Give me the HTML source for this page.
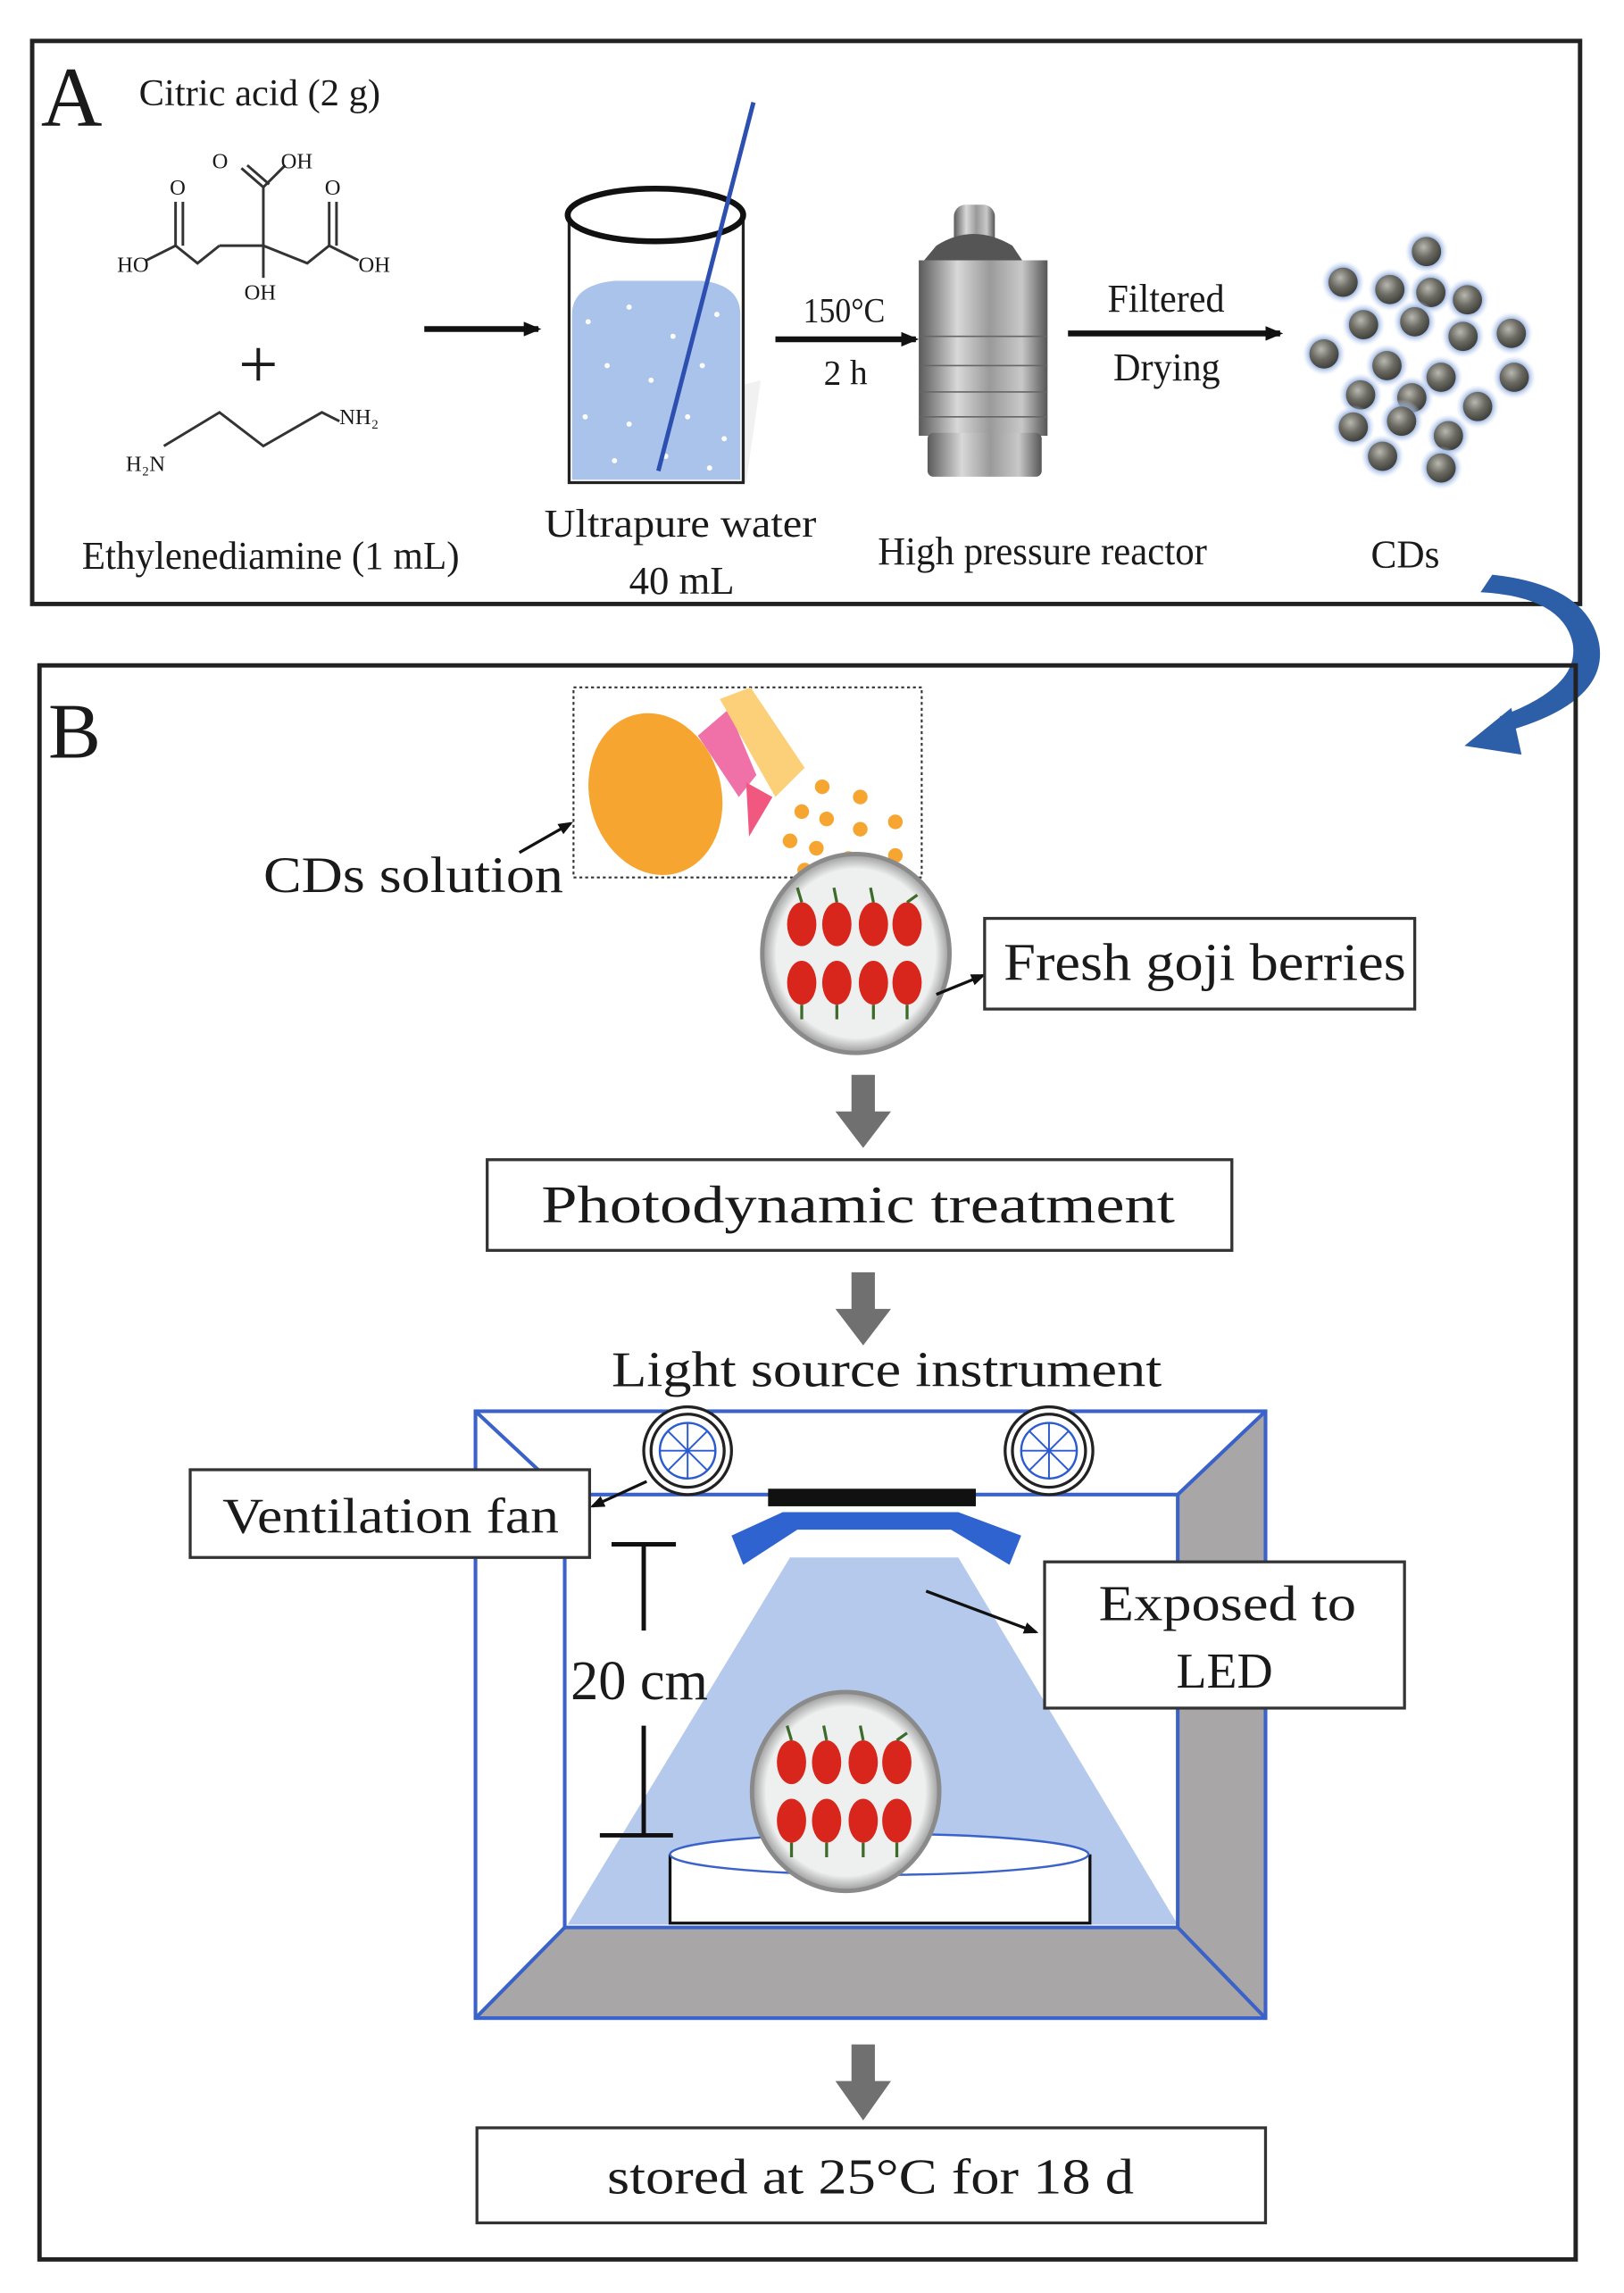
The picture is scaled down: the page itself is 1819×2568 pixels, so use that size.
<!DOCTYPE html>
<html><head><meta charset="utf-8"><style>
html,body{margin:0;padding:0;background:#fff;}
svg{display:block;}
text{font-family:"Liberation Serif",serif;fill:#1a1a1a;}
</style></head><body>
<svg width="1819" height="2568" viewBox="0 0 1819 2568" xmlns="http://www.w3.org/2000/svg">
<defs>
<radialGradient id="sph" cx="0.4" cy="0.35" r="0.7"><stop offset="0" stop-color="#b8b8b0"/><stop offset="0.5" stop-color="#6b6a62"/><stop offset="1" stop-color="#3a3a36"/></radialGradient>
<radialGradient id="glow" cx="0.5" cy="0.5" r="0.5"><stop offset="0.6" stop-color="#7f9fd8"/><stop offset="1" stop-color="#dfe8f8" stop-opacity="0"/></radialGradient>
<linearGradient id="steel" x1="0" x2="1"><stop offset="0" stop-color="#5a5a5a"/><stop offset="0.3" stop-color="#d8d8d8"/><stop offset="0.55" stop-color="#9a9a9a"/><stop offset="0.8" stop-color="#c8c8c8"/><stop offset="1" stop-color="#555"/></linearGradient>
<radialGradient id="dishg" cx="0.5" cy="0.5" r="0.5"><stop offset="0.85" stop-color="#eef0ef"/><stop offset="1" stop-color="#9a9a9a"/></radialGradient>
<g id="dish">
<ellipse cx="0" cy="0" rx="64" ry="68" fill="url(#dishg)" stroke="#8a8a8a" stroke-width="3"/>
<g fill="#d8261c">
<ellipse cx="-37" cy="-20" rx="10" ry="15"/><ellipse cx="-13" cy="-20" rx="10" ry="15"/><ellipse cx="12" cy="-20" rx="10" ry="15"/><ellipse cx="35" cy="-20" rx="10" ry="15"/>
<ellipse cx="-37" cy="20" rx="10" ry="15"/><ellipse cx="-13" cy="20" rx="10" ry="15"/><ellipse cx="12" cy="20" rx="10" ry="15"/><ellipse cx="35" cy="20" rx="10" ry="15"/>
</g>
<g stroke="#3d6b2a" stroke-width="2"><line x1="-37" y1="-35" x2="-40" y2="-45"/><line x1="-13" y1="-35" x2="-15" y2="-45"/><line x1="12" y1="-35" x2="10" y2="-45"/><line x1="35" y1="-35" x2="42" y2="-40"/><line x1="-37" y1="35" x2="-37" y2="45"/><line x1="-13" y1="35" x2="-13" y2="45"/><line x1="12" y1="35" x2="12" y2="45"/><line x1="35" y1="35" x2="35" y2="45"/></g>
</g>
<g id="sp"><circle r="15" fill="url(#glow)"/><circle r="10" fill="url(#sph)"/></g>
<g id="fan"><circle r="30" fill="#fff" stroke="#222" stroke-width="2"/><circle r="25" fill="#fff" stroke="#222" stroke-width="2"/><circle r="19" fill="none" stroke="#2a5bd0" stroke-width="1.5"/><g stroke="#2a5bd0" stroke-width="1.2"><line x1="-19" y1="0" x2="19" y2="0"/><line x1="0" y1="-19" x2="0" y2="19"/><line x1="-13" y1="-13" x2="13" y2="13"/><line x1="-13" y1="13" x2="13" y2="-13"/></g></g>
<marker id="ah" markerWidth="12" markerHeight="10" refX="10" refY="5" orient="auto" markerUnits="userSpaceOnUse"><path d="M0,0 L12,5 L0,10 z" fill="#111"/></marker>
<marker id="ahs" markerWidth="10" markerHeight="8" refX="8" refY="4" orient="auto" markerUnits="userSpaceOnUse"><path d="M0,0 L10,4 L0,8 z" fill="#111"/></marker>
</defs>
<g transform="scale(1.6387,1.6378)">
<!-- Panel A -->
<rect x="22" y="28" width="1058" height="385" fill="none" stroke="#222" stroke-width="3"/>
<text x="28" y="86" font-size="58">A</text>
<text x="95" y="72" font-size="26" textLength="165" lengthAdjust="spacingAndGlyphs">Citric acid (2 g)</text>
<g stroke="#333" stroke-width="1.8" fill="none">
<polyline points="100,178 120,168 135,180 150,168"/>
<line x1="120" y1="168" x2="120" y2="138"/><line x1="125" y1="168" x2="125" y2="138"/>
<polyline points="150,168 180,168"/><line x1="180" y1="168" x2="180" y2="190"/>
<polyline points="180,168 210,180 225,168 245,178"/>
<line x1="225" y1="168" x2="225" y2="138"/><line x1="230" y1="168" x2="230" y2="138"/>
<line x1="180" y1="168" x2="180" y2="128"/><line x1="180" y1="128" x2="165" y2="115"/><line x1="184" y1="126" x2="169" y2="113"/><line x1="180" y1="128" x2="195" y2="113"/>
</g>
<g font-family="Liberation Sans" font-size="15" fill="#333"><text x="80" y="186" font-size="15">HO</text><text x="245" y="186">OH</text><text x="167" y="205">OH</text><text x="116" y="133">O</text><text x="222" y="133">O</text><text x="145" y="115">O</text><text x="192" y="115">OH</text></g>
<text x="163" y="265" font-family="Liberation Sans" font-size="48" fill="#2a5bd0">+</text>
<g stroke="#333" stroke-width="1.8" fill="none"><polyline points="112,305 150,282 180,305 220,282 232,288"/></g>
<g font-family="Liberation Sans" font-size="15" fill="#333"><text x="86" y="322">H₂N</text><text x="232" y="290">NH₂</text></g>
<text x="56" y="389" font-size="27" textLength="258" lengthAdjust="spacingAndGlyphs">Ethylenediamine (1 mL)</text>
<line x1="290" y1="225" x2="368" y2="225" stroke="#111" stroke-width="4" marker-end="url(#ah)"/>
<path d="M389,293 L440,293 L455,330 L510,330 L520,260 Z" fill="#e8e8e8" opacity="0.6"/>
<path d="M389,145 L389,330 L508,330 L508,145" fill="#fff" stroke="#222" stroke-width="2"/>
<path d="M391,215 Q391,195 420,192 L480,192 Q506,195 506,215 L506,328 L391,328 Z" fill="#a9c3ea"/>
<g fill="#fff"><circle cx="402" cy="220" r="1.8"/><circle cx="430" cy="210" r="1.8"/><circle cx="460" cy="230" r="1.8"/><circle cx="490" cy="215" r="1.8"/><circle cx="415" cy="250" r="1.8"/><circle cx="445" cy="260" r="1.8"/><circle cx="480" cy="250" r="1.8"/><circle cx="400" cy="285" r="1.8"/><circle cx="430" cy="290" r="1.8"/><circle cx="470" cy="285" r="1.8"/><circle cx="495" cy="300" r="1.8"/><circle cx="420" cy="315" r="1.8"/><circle cx="455" cy="312" r="1.8"/><circle cx="485" cy="320" r="1.8"/></g>
<ellipse cx="448" cy="147" rx="60" ry="18" fill="none" stroke="#111" stroke-width="4"/>
<line x1="515" y1="70" x2="450" y2="322" stroke="#2c4fb0" stroke-width="3"/>
<text x="372" y="367" font-size="27" textLength="186" lengthAdjust="spacingAndGlyphs">Ultrapure water</text>
<text x="430" y="406" font-size="27" textLength="72" lengthAdjust="spacingAndGlyphs">40 mL</text>
<line x1="530" y1="232" x2="626" y2="232" stroke="#111" stroke-width="4" marker-end="url(#ah)"/>
<text x="549" y="220" font-size="24" textLength="56" lengthAdjust="spacingAndGlyphs">150°C</text>
<text x="563" y="263" font-size="24">2 h</text>
<rect x="652" y="140" width="28" height="40" rx="8" fill="url(#steel)"/>
<path d="M640,168 Q665,152 692,168 L700,180 L630,180 Z" fill="#555"/>
<rect x="628" y="178" width="88" height="120" fill="url(#steel)"/>
<rect x="634" y="296" width="78" height="30" rx="4" fill="url(#steel)"/>
<g stroke="#666" stroke-width="1"><line x1="628" y1="230" x2="716" y2="230"/><line x1="628" y1="250" x2="716" y2="250"/><line x1="628" y1="268" x2="716" y2="268"/><line x1="628" y1="285" x2="716" y2="285"/></g>
<text x="600" y="386" font-size="27" textLength="225" lengthAdjust="spacingAndGlyphs">High pressure reactor</text>
<line x1="730" y1="228" x2="875" y2="228" stroke="#111" stroke-width="4" marker-end="url(#ah)"/>
<text x="757" y="213" font-size="27" textLength="80" lengthAdjust="spacingAndGlyphs">Filtered</text>
<text x="761" y="260" font-size="27" textLength="73" lengthAdjust="spacingAndGlyphs">Drying</text>
<g>
<use href="#sp" x="975" y="172"/><use href="#sp" x="918" y="193"/><use href="#sp" x="950" y="198"/><use href="#sp" x="978" y="200"/><use href="#sp" x="1003" y="205"/>
<use href="#sp" x="932" y="222"/><use href="#sp" x="967" y="220"/><use href="#sp" x="1000" y="230"/><use href="#sp" x="1033" y="228"/>
<use href="#sp" x="905" y="242"/><use href="#sp" x="948" y="250"/><use href="#sp" x="985" y="258"/><use href="#sp" x="1035" y="258"/>
<use href="#sp" x="930" y="270"/><use href="#sp" x="965" y="272"/><use href="#sp" x="1010" y="278"/>
<use href="#sp" x="925" y="292"/><use href="#sp" x="958" y="288"/><use href="#sp" x="990" y="298"/>
<use href="#sp" x="945" y="312"/><use href="#sp" x="985" y="320"/>
</g>
<text x="937" y="388" font-size="27" textLength="47" lengthAdjust="spacingAndGlyphs">CDs</text>
<path d="M1020,393 Q1085,400 1093,440 Q1100,480 1030,500 L1025,490 Q1080,470 1075,440 Q1068,408 1012,405 Z" fill="#2d5fa8"/>
<path d="M1033,484 L1001,510 L1040,516 Z" fill="#2d5fa8"/>
<!-- Panel B -->
<rect x="27" y="455" width="1050" height="1090" fill="none" stroke="#222" stroke-width="3"/>
<text x="33" y="518" font-size="54">B</text>
<rect x="392" y="470" width="238" height="130" fill="none" stroke="#333" stroke-width="1.3" stroke-dasharray="2,2"/>
<ellipse cx="448" cy="543" rx="45" ry="56" transform="rotate(-15 448 543)" fill="#f6a531"/>
<path d="M477,503 L498,485 L517,530 L505,545 Z" fill="#f070a8"/>
<path d="M492,478 L513,470 L550,525 L530,545 Z" fill="#fcd078"/>
<path d="M510,535 L528,545 L512,572 Z" fill="#f05880"/>
<g fill="#f6a531"><circle cx="562" cy="538" r="5"/><circle cx="588" cy="545" r="5"/><circle cx="548" cy="555" r="5"/><circle cx="565" cy="560" r="5"/><circle cx="588" cy="567" r="5"/><circle cx="612" cy="562" r="5"/><circle cx="540" cy="575" r="5"/><circle cx="558" cy="580" r="5"/><circle cx="580" cy="587" r="5"/><circle cx="612" cy="585" r="5"/><circle cx="550" cy="595" r="5"/></g>
<line x1="355" y1="583" x2="390" y2="563" stroke="#111" stroke-width="2" marker-end="url(#ahs)"/>
<text x="180" y="610" font-size="35" font-family="Liberation Sans" textLength="205" lengthAdjust="spacingAndGlyphs">CDs solution</text>
<use href="#dish" x="585" y="652"/>
<line x1="640" y1="680" x2="672" y2="667" stroke="#111" stroke-width="2" marker-end="url(#ahs)"/>
<rect x="673" y="628" width="294" height="62" fill="#fff" stroke="#333" stroke-width="2"/>
<text x="686" y="670" font-size="36" textLength="275" lengthAdjust="spacingAndGlyphs">Fresh goji berries</text>
<path d="M582,735 L598,735 L598,760 L609,760 L590,785 L571,760 L582,760 Z" fill="#707070"/>
<rect x="333" y="793" width="509" height="62" fill="#fff" stroke="#333" stroke-width="2"/>
<text x="370" y="836" font-size="36" textLength="433" lengthAdjust="spacingAndGlyphs">Photodynamic treatment</text>
<path d="M582,870 L598,870 L598,895 L609,895 L590,920 L571,895 L582,895 Z" fill="#707070"/>
<text x="418" y="948" font-size="34" textLength="376" lengthAdjust="spacingAndGlyphs">Light source instrument</text>
<polygon points="386,1318 805,1318 865,1380 325,1380" fill="#a8a6a6"/>
<polygon points="805,1022 865,965 865,1380 805,1318" fill="#a8a6a6"/>
<polygon points="540,1065 655,1065 805,1316 388,1316" fill="#b4c9ec"/>
<g stroke="#3a62c8" stroke-width="2.5" fill="none">
<rect x="325" y="965" width="540" height="415"/>
<polyline points="386,1318 386,1022 805,1022 805,1318 386,1318"/>
<line x1="325" y1="965" x2="386" y2="1022"/><line x1="865" y1="965" x2="805" y2="1022"/>
<line x1="325" y1="1380" x2="386" y2="1318"/><line x1="865" y1="1380" x2="805" y2="1318"/>
</g>
<use href="#fan" x="470" y="992"/><use href="#fan" x="717" y="992"/>
<rect x="525" y="1018" width="142" height="12" fill="#111"/>
<path d="M535,1034 L655,1034 L698,1050 L690,1070 L650,1046 L545,1046 L508,1070 L500,1050 Z" fill="#2f63d0"/>
<line x1="442" y1="1013" x2="405" y2="1030" stroke="#111" stroke-width="2" marker-end="url(#ahs)"/>
<rect x="130" y="1005" width="273" height="60" fill="#fff" stroke="#333" stroke-width="2"/>
<text x="152" y="1048" font-size="34" textLength="230" lengthAdjust="spacingAndGlyphs">Ventilation fan</text>
<line x1="633" y1="1088" x2="708" y2="1116" stroke="#111" stroke-width="2" marker-end="url(#ahs)"/>
<rect x="714" y="1068" width="246" height="100" fill="#fff" stroke="#333" stroke-width="2"/>
<text x="751" y="1108" font-size="34" textLength="176" lengthAdjust="spacingAndGlyphs">Exposed to</text>
<text x="804" y="1154" font-size="34">LED</text>
<g stroke="#111" stroke-width="3"><line x1="418" y1="1056" x2="462" y2="1056"/><line x1="440" y1="1056" x2="440" y2="1115"/><line x1="440" y1="1180" x2="440" y2="1255"/><line x1="410" y1="1255" x2="460" y2="1255"/></g>
<text x="390" y="1162" font-size="38">20 cm</text>
<path d="M458,1268 L458,1315 L745,1315 L745,1268" fill="#fff" stroke="#111" stroke-width="2"/>
<ellipse cx="601" cy="1268" rx="143" ry="14" fill="#fff" stroke="#3a62c8" stroke-width="1.5"/>
<use href="#dish" x="578" y="1225"/>
<path d="M582,1398 L598,1398 L598,1423 L609,1423 L590,1450 L571,1423 L582,1423 Z" fill="#707070"/>
<rect x="326" y="1455" width="539" height="65" fill="#fff" stroke="#333" stroke-width="2"/>
<text x="415" y="1500" font-size="34" textLength="360" lengthAdjust="spacingAndGlyphs">stored at 25°C for 18 d</text>
</g>
</svg>
</body></html>
